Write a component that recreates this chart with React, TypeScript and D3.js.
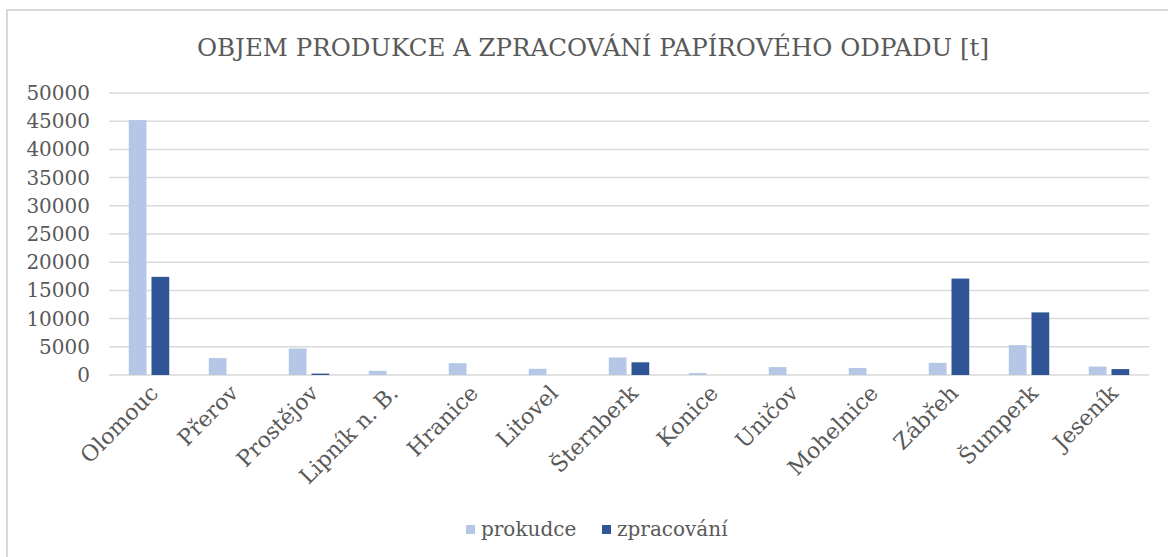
import React, { useRef, useEffect } from "react";
import * as d3 from "d3";

const width = 1168;
const height = 557;
const margin = { top: 93, right: 19, bottom: 182, left: 109 };

const categories = [
  "Olomouc", "Přerov", "Prostějov", "Lipník n. B.", "Hranice", "Litovel",
  "Šternberk", "Konice", "Uničov", "Mohelnice", "Zábřeh", "Šumperk", "Jeseník",
];
const prokudce = [45200, 3000, 4700, 750, 2100, 1100, 3100, 350, 1400, 1250, 2150, 5300, 1500];
const zpracovani = [17400, 0, 250, 0, 0, 0, 2250, 0, 0, 0, 17100, 11100, 1050];
const seriesNames = ["prokudce", "zpracování"];
const colors = ["#b4c7e7", "#2f5597"];
const yTicks = [0, 5000, 10000, 15000, 20000, 25000, 30000, 35000, 40000, 45000, 50000];

const textColor = "#595959";
const font = "'DejaVu Serif', serif";

const App = () => {
  const svgRef = useRef<SVGSVGElement>(null);

  useEffect(() => {
    const svg = d3.select(svgRef.current);
    svg.selectAll("*").remove();

    const rows = categories.map((c, i) => ({ cat: c, values: [prokudce[i], zpracovani[i]] }));

    const x = d3.scaleBand()
      .domain(categories)
      .range([margin.left, width - margin.right])
      .padding(0);

    const x1 = d3.scaleBand()
      .domain(seriesNames)
      .range([0, x.bandwidth()])
      .paddingInner(0.22)
      .paddingOuter(0.87);

    const y = d3.scaleLinear()
      .domain([0, 50000])
      .range([height - margin.bottom, margin.top]);

    // chart frame
    svg.append("rect")
      .attr("x", 7)
      .attr("y", 10)
      .attr("width", width + 20)
      .attr("height", height + 20)
      .attr("fill", "#fff")
      .attr("stroke", "#d9d9d9")
      .attr("stroke-width", 2);

    // title
    svg.append("text")
      .attr("x", 593)
      .attr("y", 56)
      .attr("text-anchor", "middle")
      .style("font-family", font)
      .style("font-size", "24.5px")
      .style("fill", textColor)
      .text("OBJEM PRODUKCE A ZPRACOVÁNÍ PAPÍROVÉHO ODPADU [t]");

    // gridlines
    svg.append("g")
      .selectAll("line")
      .data(yTicks)
      .enter()
      .append("line")
      .attr("x1", margin.left)
      .attr("x2", width - margin.right)
      .attr("y1", d => y(d))
      .attr("y2", d => y(d))
      .attr("stroke", "#d9d9d9")
      .attr("stroke-width", 1.5);

    // y tick labels
    svg.append("g")
      .selectAll("text")
      .data(yTicks)
      .enter()
      .append("text")
      .attr("x", 90)
      .attr("y", d => y(d))
      .attr("dy", "0.35em")
      .attr("text-anchor", "end")
      .style("font-family", font)
      .style("font-size", "20px")
      .style("fill", textColor)
      .text(d => d);

    // bars
    const groups = svg.append("g")
      .selectAll("g")
      .data(rows)
      .enter()
      .append("g")
      .attr("transform", d => `translate(${x(d.cat)},0)`);

    groups.selectAll("rect")
      .data(d => d.values.map((v, i) => ({ key: seriesNames[i], v, i })))
      .enter()
      .append("rect")
      .attr("x", d => x1(d.key)!)
      .attr("y", d => y(d.v))
      .attr("width", x1.bandwidth())
      .attr("height", d => y(0) - y(d.v))
      .attr("fill", d => colors[d.i]);

    // x labels
    svg.append("g")
      .selectAll("text")
      .data(categories)
      .enter()
      .append("text")
      .attr("transform", d => `translate(${x(d)! + x.bandwidth() / 2 + 5},${y(0) + 14}) rotate(-45)`)
      .attr("text-anchor", "end")
      .attr("dy", "0.35em")
      .style("font-family", font)
      .style("font-size", "22px")
      .style("fill", textColor)
      .text(d => d);

    // legend
    const legendItems = [
      { name: seriesNames[0], color: colors[0], x: 466 },
      { name: seriesNames[1], color: colors[1], x: 602 },
    ];
    const legend = svg.append("g");
    legendItems.forEach(item => {
      legend.append("rect")
        .attr("x", item.x)
        .attr("y", 525)
        .attr("width", 9)
        .attr("height", 9)
        .attr("fill", item.color);
      legend.append("text")
        .attr("x", item.x + 15)
        .attr("y", 536)
        .style("font-family", font)
        .style("font-size", "20px")
        .style("fill", textColor)
        .text(item.name);
    });
  }, []);

  return (
    <svg
      ref={svgRef}
      width={width}
      height={height}
      style={{ position: "fixed", left: 0, top: 0, background: "#fff" }}
    />
  );
};

export default App;
